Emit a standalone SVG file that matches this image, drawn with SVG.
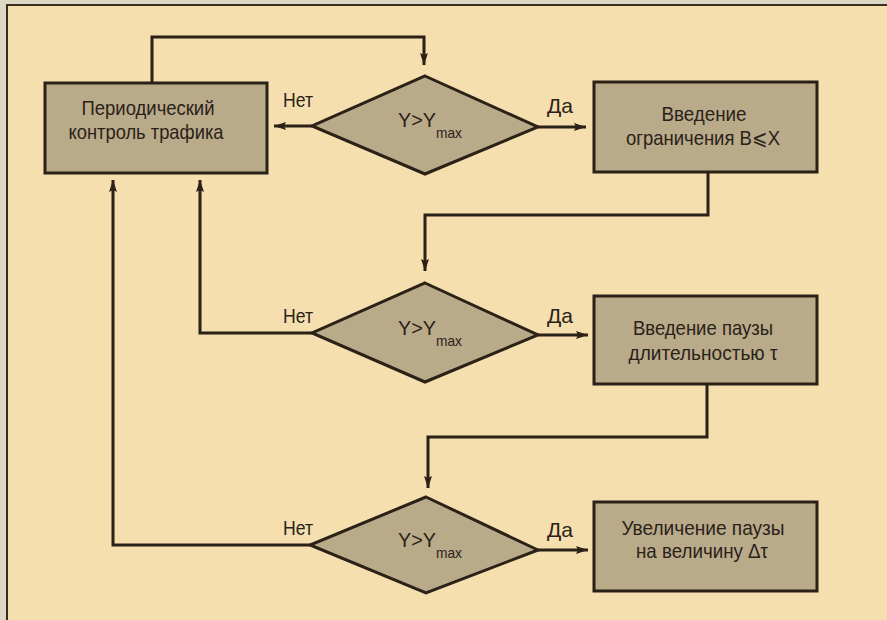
<svg xmlns="http://www.w3.org/2000/svg" width="887" height="620" viewBox="0 0 887 620">
  <style>
    .node rect, .node polygon { fill: #b9aa8a; stroke: #2b2116; stroke-width: 3; }
    .conn path { fill: none; stroke: #2b2116; stroke-width: 3; }
    text { font-family: "Liberation Sans Narrow", "Liberation Sans", Arial, sans-serif; fill: #2a2218; }
    .t { font-size: 21px; text-anchor: middle; }
    .lbl { font-size: 21px; }
    .sub { font-size: 15px; }
  </style>
  <defs>
    <marker id="ah" viewBox="0 0 12 8" refX="12" refY="4" markerWidth="12" markerHeight="8" markerUnits="userSpaceOnUse" orient="auto">
      <path d="M0,0 L12,4 L0,8 L2,4 Z" fill="#2b2116"/>
    </marker>
  </defs>
  <rect x="0" y="0" width="887" height="620" fill="#dcd8c4"/>
  <rect x="7" y="5" width="880" height="615" fill="#f5dfae"/>
  <path d="M7,620 V5 H887" fill="none" stroke="#3a2c1c" stroke-width="2"/>

  <g class="conn" id="connectors">
    <path d="M152,83 V37 H424 V65" marker-end="url(#ah)"/>
    <path d="M312,126 H274" marker-end="url(#ah)"/>
    <path d="M538,127 H586" marker-end="url(#ah)"/>
    <path d="M708,172 V215 H425 V271" marker-end="url(#ah)"/>
    <path d="M312,333 H200 V180" marker-end="url(#ah)"/>
    <path d="M538,335 H588" marker-end="url(#ah)"/>
    <path d="M707,384 V437 H428 V488" marker-end="url(#ah)"/>
    <path d="M310,545 H113 V180" marker-end="url(#ah)"/>
    <path d="M538,550 H588" marker-end="url(#ah)"/>
  </g>

  <g class="node" id="box1">
    <rect x="45" y="83" width="222" height="90"/>
    <text class="t" x="148" y="115" textLength="133" lengthAdjust="spacingAndGlyphs">Периодический</text>
    <text class="t" x="146" y="139" textLength="155" lengthAdjust="spacingAndGlyphs">контроль трафика</text>
  </g>
  <g class="node" id="box2">
    <rect x="594" y="82" width="223" height="90"/>
    <text class="t" x="704" y="121" textLength="85" lengthAdjust="spacingAndGlyphs">Введение</text>
    <text class="t" x="703" y="145" textLength="154" lengthAdjust="spacingAndGlyphs">ограничения B⩽X</text>
  </g>
  <g class="node" id="box3">
    <rect x="594" y="296" width="223" height="88"/>
    <text class="t" x="703" y="335" textLength="140" lengthAdjust="spacingAndGlyphs">Введение паузы</text>
    <text class="t" x="703" y="360" textLength="149" lengthAdjust="spacingAndGlyphs">длительностью τ</text>
  </g>
  <g class="node" id="box4">
    <rect x="594" y="502" width="223" height="89"/>
    <text class="t" x="703" y="535" textLength="163" lengthAdjust="spacingAndGlyphs">Увеличение паузы</text>
    <text class="t" x="702" y="558" textLength="132" lengthAdjust="spacingAndGlyphs">на величину Δτ</text>
  </g>

  <g class="node" id="dec1">
    <polygon points="425,76 538,127 425,174 312,126"/>
    <text class="lbl" x="398" y="127" textLength="38" lengthAdjust="spacingAndGlyphs">Y&gt;Y</text>
    <text class="sub" x="436" y="138" textLength="26" lengthAdjust="spacingAndGlyphs">max</text>
  </g>
  <g class="node" id="dec2">
    <polygon points="425,283 538,335 425,382 312,333"/>
    <text class="lbl" x="398" y="335" textLength="38" lengthAdjust="spacingAndGlyphs">Y&gt;Y</text>
    <text class="sub" x="436" y="346" textLength="26" lengthAdjust="spacingAndGlyphs">max</text>
  </g>
  <g class="node" id="dec3">
    <polygon points="426,497 538,550 426,593 310,545"/>
    <text class="lbl" x="398" y="547" textLength="38" lengthAdjust="spacingAndGlyphs">Y&gt;Y</text>
    <text class="sub" x="436" y="558" textLength="26" lengthAdjust="spacingAndGlyphs">max</text>
  </g>

  <g id="labels">
    <text class="lbl" x="283" y="107" textLength="30" lengthAdjust="spacingAndGlyphs">Нет</text>
    <text class="lbl" x="547" y="113" textLength="26" lengthAdjust="spacingAndGlyphs">Да</text>
    <text class="lbl" x="283" y="323" textLength="30" lengthAdjust="spacingAndGlyphs">Нет</text>
    <text class="lbl" x="547" y="323" textLength="26" lengthAdjust="spacingAndGlyphs">Да</text>
    <text class="lbl" x="283" y="535" textLength="30" lengthAdjust="spacingAndGlyphs">Нет</text>
    <text class="lbl" x="547" y="537" textLength="26" lengthAdjust="spacingAndGlyphs">Да</text>
  </g>
</svg>
